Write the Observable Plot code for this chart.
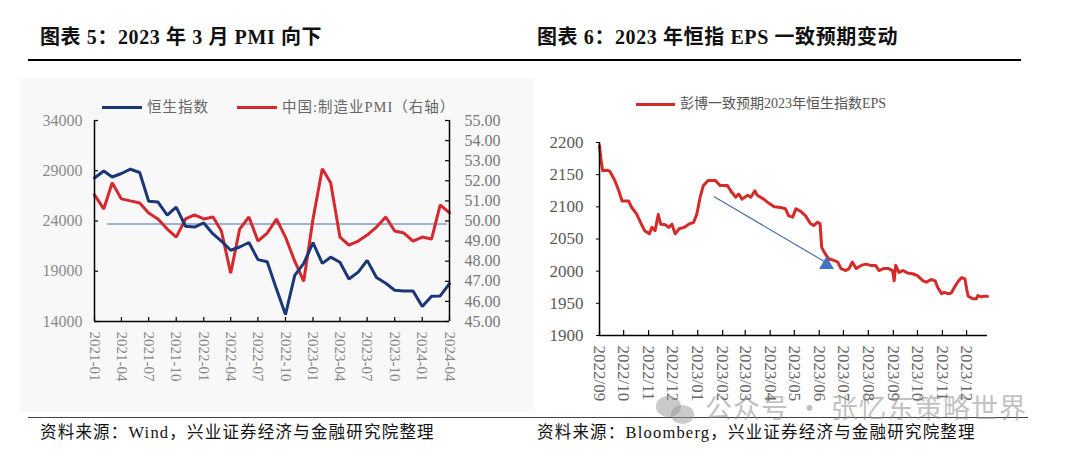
<!DOCTYPE html>
<html><head><meta charset="utf-8">
<script src="https://cdn.jsdelivr.net/npm/d3@7"></script>
<script src="https://cdn.jsdelivr.net/npm/@observablehq/plot@0.6"></script>
<style>
body{margin:0;background:#fff;}
#root{position:relative;width:1069px;height:457px;overflow:hidden;font-family:"Liberation Serif","Noto Sans CJK SC",serif;}
.abs{position:absolute;white-space:nowrap;}
.title{font-weight:bold;font-size:20px;color:#111;top:25px;line-height:24px;letter-spacing:0.6px;}
.cap{font-size:16.5px;color:#111;top:423px;line-height:20px;letter-spacing:1.2px;}
.leg{font-size:14.5px;color:#666;line-height:18px;letter-spacing:1px;}
.wm{font-family:"Noto Sans CJK SC",sans-serif;font-size:27px;color:rgba(140,140,140,0.55);top:391px;left:705px;line-height:32px;letter-spacing:1px;}
</style></head>
<body><div id="root">
<div class="abs" style="left:20px;top:78px;width:514px;height:334px;background:#f8f8f8;"></div>
<div class="abs title" style="left:40px;">图表 5：2023 年 3 月 PMI 向下</div>
<div class="abs title" style="left:537px;">图表 6：2023 年恒指 EPS 一致预期变动</div>
<div class="abs" style="left:28px;top:59px;width:993px;height:1.6px;background:#000;"></div>
<div id="left" class="abs" style="left:0;top:0;"></div>
<div id="right" class="abs" style="left:530px;top:0;"></div>
<div class="abs" style="left:102px;top:105.5px;width:40px;height:3px;background:#1c3778;"></div>
<div class="abs leg" style="left:147px;top:98px;">恒生指数</div>
<div class="abs" style="left:237px;top:105.5px;width:40px;height:3px;background:#d7282d;"></div>
<div class="abs leg" style="left:282px;top:98px;">中国:制造业PMI（右轴）</div>
<div class="abs" style="left:636px;top:102.5px;width:39px;height:3px;background:#d42a28;"></div>
<div class="abs leg" style="left:680px;top:95px;font-size:14px;letter-spacing:0;color:#555;">彭博一致预期2023年恒生指数EPS</div>
<div class="abs" style="left:28px;top:416.5px;width:1000px;height:1px;background:#444;"></div>
<div class="abs cap" style="left:40px;">资料来源：Wind，兴业证券经济与金融研究院整理</div>
<div class="abs cap" style="left:537px;">资料来源：Bloomberg，兴业证券经济与金融研究院整理</div>
<div class="abs" style="left:656px;top:396px;width:25px;height:21px;border-radius:50%;background:rgba(150,150,150,0.5);"></div>
<div class="abs" style="left:671px;top:405px;width:23px;height:19px;border-radius:50%;background:rgba(150,150,150,0.5);"></div>
<div class="abs wm">公众号 · 张忆东策略世界</div>
</div>
<script>
// ---- Left chart data (monthly) ----
const months = ["2021-01","2021-02","2021-03","2021-04","2021-05","2021-06","2021-07","2021-08","2021-09","2021-10","2021-11","2021-12",
"2022-01","2022-02","2022-03","2022-04","2022-05","2022-06","2022-07","2022-08","2022-09","2022-10","2022-11","2022-12",
"2023-01","2023-02","2023-03","2023-04","2023-05","2023-06","2023-07","2023-08","2023-09","2023-10","2023-11","2023-12",
"2024-01","2024-02","2024-03","2024-04"];
const hsi = [28284,28980,28378,28725,29152,28828,25961,25879,24576,25377,23475,23398,
23802,22713,21997,21089,21415,21860,20157,19954,17223,14687,18597,19781,
21842,19786,20400,19895,18234,18916,20079,18382,17810,17112,17043,17047,
15485,16511,16541,17763];
const pmi = [51.3,50.6,51.9,51.1,51.0,50.9,50.4,50.1,49.6,49.2,50.1,50.3,
50.1,50.2,49.5,47.4,49.6,50.2,49.0,49.4,50.1,49.2,48.0,47.0,
50.1,52.6,51.9,49.2,48.8,49.0,49.3,49.7,50.2,49.5,49.4,49.0,
49.2,49.1,50.8,50.4];
const leftTickLabels = ["2021-01","2021-04","2021-07","2021-10","2022-01","2022-04","2022-07","2022-10","2023-01","2023-04","2023-07","2023-10","2024-01","2024-04"];
const hsiTicks = [14000,19000,24000,29000,34000];
const pmiTicks = [45,46,47,48,49,50,51,52,53,54,55];
const refLevel = 49.85, refStart = "2021-02-13", refEnd = "2024-03-25";

// ---- Right chart data (Bloomberg consensus 2023 HSI EPS) ----
const epsDates = ["2022-09-01","2022-09-03","2022-09-05","2022-09-10","2022-09-14","2022-09-20","2022-09-25","2022-09-29","2022-10-07","2022-10-11",
"2022-10-17","2022-10-23","2022-10-27","2022-11-02","2022-11-05","2022-11-09","2022-11-13","2022-11-16","2022-11-22","2022-11-26",
"2022-11-30","2022-12-04","2022-12-09","2022-12-15","2022-12-21","2022-12-27","2022-12-31","2023-01-04","2023-01-08","2023-01-14",
"2023-01-23","2023-01-29","2023-02-07","2023-02-11","2023-02-17","2023-02-21","2023-02-25","2023-03-04","2023-03-08","2023-03-13",
"2023-03-16","2023-03-24","2023-03-31","2023-04-06","2023-04-14","2023-04-20","2023-04-24","2023-04-29","2023-05-03","2023-05-09",
"2023-05-15","2023-05-21","2023-05-25","2023-05-30","2023-06-02","2023-06-04","2023-06-07","2023-06-10","2023-06-13","2023-06-19",
"2023-06-24","2023-06-28","2023-07-04","2023-07-08","2023-07-12","2023-07-17","2023-07-23","2023-07-29","2023-08-04","2023-08-10",
"2023-08-14","2023-08-20","2023-08-26","2023-08-31","2023-09-02","2023-09-04","2023-09-08","2023-09-13","2023-09-19","2023-09-25",
"2023-10-01","2023-10-08","2023-10-12","2023-10-18","2023-10-23","2023-10-26","2023-10-31","2023-11-03","2023-11-08","2023-11-12",
"2023-11-16","2023-11-21","2023-11-25","2023-11-29","2023-12-01","2023-12-03","2023-12-09","2023-12-13","2023-12-15","2023-12-19",
"2023-12-23","2023-12-27"];
const epsValues = [2195,2172,2156,2157,2155,2141,2125,2109,2109,2099,
2089,2073,2063,2058,2068,2063,2088,2073,2072,2068,
2073,2058,2066,2068,2073,2076,2089,2115,2133,2141,
2141,2133,2133,2125,2115,2120,2112,2118,2115,2125,
2118,2112,2105,2100,2099,2097,2086,2084,2097,2093,
2086,2074,2071,2076,2074,2037,2030,2024,2019,2017,
2014,2004,2001,2004,2014,2004,2009,2011,2009,2009,
2001,2004,2004,2001,1985,2009,1998,2001,1997,1996,
1993,1985,1983,1987,1985,1975,1965,1967,1965,1966,
1975,1985,1990,1988,1973,1961,1957,1957,1962,1960,
1961,1961];
const rightTickLabels = ["2022-09","2022-10","2022-11","2022-12","2023-01","2023-02","2023-03","2023-04","2023-05","2023-06","2023-07","2023-08","2023-09","2023-10","2023-11","2023-12"];
const epsTicks = [1900,1950,2000,2050,2100,2150,2200];
const arrowFrom = {date: "2023-01-21", value: 2116};
const arrowTo = {date: "2023-06-10", value: 2013};
const xEnd = "2023-12-27";

// ---- helpers ----
const FONT = "Liberation Serif, Noto Sans CJK SC, serif";
const D = s => new Date(s.length === 7 ? s + "-01" : s);
const pmiToHsi = p => 14000 + (p - 45) * 2000;

// ---- Left plot ----
const leftRows = months.map((m, i) => ({date: D(m), hsi: hsi[i], pmi: pmiToHsi(pmi[i])}));
const lTicks = leftTickLabels.map(D);
const LW = 540, LH = 410, lML = 94, lMR = 91, lMT = 120, lMB = 89;
const lFW = LW - lML - lMR, lFH = LH - lMT - lMB;
const left = Plot.plot({
  width: LW, height: LH, marginLeft: lML, marginRight: lMR, marginTop: lMT, marginBottom: lMB,
  style: {fontFamily: FONT, background: "transparent", overflow: "visible"},
  x: {type: "utc", domain: [D(months[0]), D(months[months.length - 1])]},
  y: {domain: [14000, 34000]},
  marks: [
    Plot.ruleY([refLevel], {y: pmiToHsi, x1: D(refStart), x2: D(refEnd), stroke: "#4a6fb0", strokeWidth: 1.2}),
    Plot.line(leftRows, {x: "date", y: "pmi", stroke: "#d7282d", strokeWidth: 3, strokeLinejoin: "miter"}),
    Plot.line(leftRows, {x: "date", y: "hsi", stroke: "#1c3778", strokeWidth: 3, strokeLinejoin: "miter"}),
    Plot.ruleX([D(months[0]), D(months[months.length - 1])], {stroke: "#000", strokeWidth: 1.5}),
    Plot.ruleY([14000], {stroke: "#000", strokeWidth: 1.5}),
    Plot.tickX(lTicks, {x: d => d, insetTop: lFH - 4, stroke: "#000", strokeWidth: 1.2}),
    Plot.tickY(hsiTicks, {y: d => d, insetRight: lFW - 4, stroke: "#000", strokeWidth: 1.2}),
    Plot.tickY(pmiTicks.map(pmiToHsi), {y: d => d, insetLeft: lFW - 4, stroke: "#000", strokeWidth: 1.2}),
    Plot.axisY(hsiTicks, {anchor: "left", tickSize: 0, tickPadding: 12, tickFormat: d3.format("d"), fontSize: 16, fill: "#8a8a8a", label: null}),
    Plot.axisY(pmiTicks.map(pmiToHsi), {anchor: "right", tickSize: 0, tickPadding: 15, tickFormat: d => ((d - 14000) / 2000 + 45).toFixed(2), fontSize: 16, fill: "#777", label: null}),
    Plot.axisX(lTicks, {anchor: "bottom", tickSize: 0, tickPadding: 10, tickRotate: 90, tickFormat: d3.utcFormat("%Y-%m"), fontSize: 15, fill: "#888", label: null})
  ]
});
document.getElementById("left").append(left);

// ---- Right plot ----
const epsRows = epsDates.map((d, i) => ({date: D(d), value: epsValues[i]}));
const rTicks = rightTickLabels.map(D);
const RW = 539, RH = 410, rML = 69, rMR = 82, rMT = 142, rMB = 75;
const rFH = RH - rMT - rMB;
const right = Plot.plot({
  width: RW, height: RH, marginLeft: rML, marginRight: rMR, marginTop: rMT, marginBottom: rMB,
  style: {fontFamily: FONT, background: "transparent", overflow: "visible"},
  x: {type: "utc", domain: [D(epsDates[0]), D(xEnd)]},
  y: {domain: [1900, 2200]},
  marks: [
    Plot.line(epsRows, {x: "date", y: "value", stroke: "#d42a28", strokeWidth: 3}),
    Plot.link([{a: arrowFrom, b: arrowTo}], {x1: d => D(d.a.date), y1: d => d.a.value, x2: d => D(d.b.date), y2: d => d.b.value, stroke: "#4a6fa5", strokeWidth: 1.2}),
    Plot.dot([arrowTo], {x: d => D(d.date), y: d => d.value, symbol: "triangle", r: 5.5, fill: "#4472c4", stroke: "none", dy: 2}),
    Plot.ruleX([D(epsDates[0])], {stroke: "#000", strokeWidth: 1.5}),
    Plot.ruleY([1900], {stroke: "#000", strokeWidth: 1.5}),
    Plot.tickX(rTicks, {x: d => d, insetTop: rFH - 5, stroke: "#000", strokeWidth: 1.2}),
    Plot.axisY(epsTicks, {anchor: "left", tickSize: 3, tickPadding: 13, tickFormat: d3.format("d"), fontSize: 17, fill: "#595959", stroke: "#000", label: null}),
    Plot.axisX(rTicks, {anchor: "bottom", tickSize: 0, tickPadding: 10, tickRotate: 90, tickFormat: d3.utcFormat("%Y/%m"), fontSize: 17, fill: "#666", label: null})
  ]
});
document.getElementById("right").append(right);
</script>
</body></html>
